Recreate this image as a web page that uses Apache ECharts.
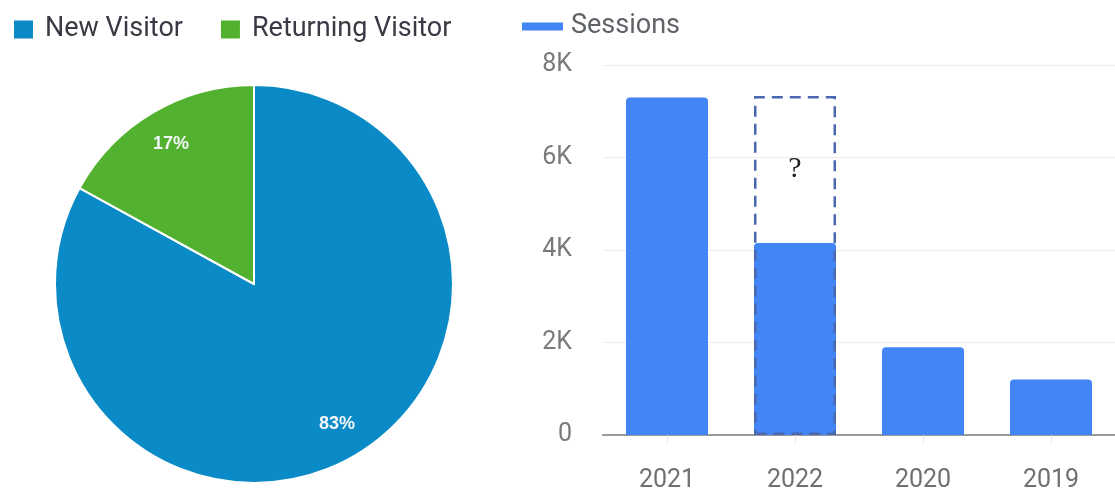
<!DOCTYPE html>
<html>
<head>
<meta charset="utf-8">
<style>
  html, body { margin: 0; padding: 0; background: #ffffff; }
  #chart { width: 1115px; height: 495px; }
</style>
<script src="https://cdn.jsdelivr.net/npm/echarts@6/dist/echarts.min.js"></script>
</head>
<body>
<div id="chart"></div>
<script>
// ---- data ----
const visitorNames = ['New Visitor', 'Returning Visitor'];
const visitorShares = [83, 17];
const visitorColors = ['#0A8AC6', '#52B22F'];

const years = ['2021', '2022', '2020', '2019'];
const sessions = [7300, 4150, 1900, 1200];
const highlightValues = ['-', 7330, '-', '-'];   // dashed "?" box over 2022
const highlightText = '?';

const yTicks = [0, 2000, 4000, 6000, 8000];
const yTickLabels = ['0', '2K', '4K', '6K', '8K'];

// ---- chart ----
const chart = echarts.init(document.getElementById('chart'), null, { renderer: 'canvas' });

const pieData = visitorNames.map((n, i) => ({ name: n, value: visitorShares[i], itemStyle: { color: visitorColors[i] } }));

const option = {
  animation: false,
  backgroundColor: '#ffffff',
  legend: [
    {
      data: visitorNames,
      left: 12, top: 16, padding: 0,
      icon: 'rect', itemWidth: 21, itemHeight: 20, itemGap: 36,
      selectedMode: false,
      textStyle: { fontFamily: 'Roboto', fontSize: 27, color: '#3a3a44', padding: [0, 0, 0, 6] }
    },
    {
      data: ['Sessions'],
      left: 522, top: 13, padding: 0,
      icon: 'rect', itemWidth: 41, itemHeight: 8,
      selectedMode: false,
      textStyle: { fontFamily: 'Roboto', fontSize: 27, color: '#5f6368', padding: [0, 0, 0, 3] }
    }
  ],
  grid: { left: 603, right: -4, top: 65, height: 370, containLabel: false },
  xAxis: {
    type: 'category',
    data: years,
    axisLine: { lineStyle: { color: '#9a9a9a', width: 2 } },
    axisTick: { show: true, alignWithLabel: true, length: 8, lineStyle: { color: '#e4e4e4' } },
    axisLabel: { fontFamily: 'Roboto', fontSize: 25, color: '#707070', margin: 33 }
  },
  yAxis: {
    type: 'value',
    min: yTicks[0], max: yTicks[yTicks.length - 1], interval: yTicks[1] - yTicks[0],
    axisLine: { show: false },
    axisTick: { show: false },
    splitLine: { lineStyle: { color: '#ececec', width: 1 } },
    axisLabel: {
      fontFamily: 'Roboto', fontSize: 25, color: '#7a7a7a', margin: 31,
      formatter: v => yTickLabels[yTicks.indexOf(v)]
    }
  },
  series: [
    {
      name: 'Visitors',
      type: 'pie',
      center: [254, 284],
      radius: 199,
      startAngle: 90,
      clockwise: true,
      silent: true,
      label: { show: false },
      labelLine: { show: false },
      itemStyle: { borderColor: '#ffffff', borderWidth: 2 },
      data: pieData
    },
    {
      name: 'VisitorLabels',
      type: 'pie',
      center: [254, 284],
      radius: [121, 199],
      startAngle: 90,
      clockwise: true,
      silent: true,
      itemStyle: { color: 'rgba(0,0,0,0)', borderWidth: 0 },
      label: {
        show: true, position: 'inside',
        formatter: '{c}%',
        fontFamily: 'Liberation Sans', fontWeight: 'bold', fontSize: 18, color: '#f2f6f8'
      },
      labelLine: { show: false },
      data: visitorNames.map((n, i) => ({ name: n, value: visitorShares[i] }))
    },
    {
      name: 'Sessions',
      type: 'bar',
      data: sessions,
      barWidth: 82,
      itemStyle: { color: '#4285F4', borderRadius: [4, 4, 0, 0] },
      silent: true
    },
    {
      name: 'Highlight',
      type: 'bar',
      data: highlightValues,
      barWidth: 82,
      barGap: '-100%',
      z: 5,
      silent: true,
      itemStyle: {
        color: 'rgba(0,0,0,0)',
        borderColor: '#4a68b0',
        borderWidth: 2.5,
        borderType: [11, 7]
      },
      label: {
        show: true,
        position: 'insideTop',
        distance: 58,
        formatter: () => highlightText,
        fontFamily: 'Liberation Serif', fontSize: 30, color: '#222222'
      }
    }
  ]
};

chart.setOption(option);
</script>
</body>
</html>
